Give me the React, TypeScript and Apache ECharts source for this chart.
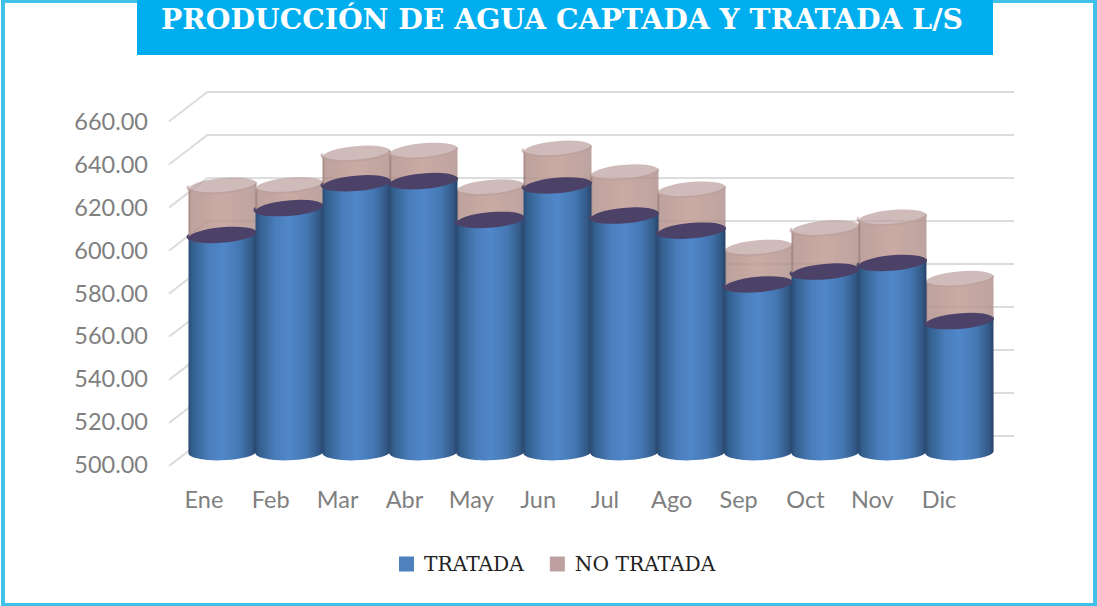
import React, { useEffect, useRef } from "react";
import * as echarts from "echarts";

const categories = ["Ene", "Feb", "Mar", "Abr", "May", "Jun", "Jul", "Ago", "Sep", "Oct", "Nov", "Dic"];
const tratada = [601, 613.5, 625, 626, 608, 624, 610, 603, 578, 584, 588, 561];
const noTratada = [22.8, 10.5, 13.7, 14, 15, 17, 20, 19, 17, 20, 21, 19.5];
const yTicks = [500, 520, 540, 560, 580, 600, 620, 640, 660];
const titleText = "PRODUCCIÓN DE AGUA CAPTADA Y TRATADA L/S";

const BLUE_STOPS = [
  { offset: 0, color: "#2A4A72" },
  { offset: 0.07, color: "#33608F" },
  { offset: 0.3, color: "#4A7DBB" },
  { offset: 0.5, color: "#5087C9" },
  { offset: 0.75, color: "#4578B3" },
  { offset: 0.93, color: "#335A88" },
  { offset: 1, color: "#284468" },
];
const PINK_STOPS = [
  { offset: 0, color: "rgba(140,105,100,0.85)" },
  { offset: 0.05, color: "rgba(176,142,136,0.82)" },
  { offset: 0.5, color: "rgba(194,156,149,0.86)" },
  { offset: 1, color: "rgba(174,144,139,0.82)" },
];

function ends(cx: number, cy: number, rx: number, deg: number) {
  const t = (deg * Math.PI) / 180;
  return {
    lx: cx - rx * Math.cos(t),
    ly: cy + rx * Math.sin(t),
    rx_: cx + rx * Math.cos(t),
    ry_: cy - rx * Math.sin(t),
  };
}

function cylinder(stops: any[], capColor: string, capOpacity?: number) {
  return (_params: any, api: any) => {
    const i = api.value(0);
    const bottom = api.coord([i, api.value(1)]);
    const top = api.coord([i, api.value(2)]);
    const rx = api.size([1, 0])[0] / 2 + 0.6;
    const ry = 8.2;
    const topTilt = 5;
    const botTilt = api.value(1) === yTicks[0] ? 2 : 5;
    const T = ends(top[0], top[1], rx, topTilt);
    const B = ends(bottom[0], bottom[1], rx, botTilt);
    const body =
      `M${T.lx} ${T.ly}L${B.lx} ${B.ly}` +
      `A${rx} ${ry} ${-botTilt} 0 0 ${B.rx_} ${B.ry_}` +
      `L${T.rx_} ${T.ry_}` +
      `A${rx} ${ry} ${-topTilt} 0 1 ${T.lx} ${T.ly}Z`;
    const cap =
      `M${T.lx} ${T.ly}A${rx} ${ry} ${-topTilt} 0 1 ${T.rx_} ${T.ry_}` +
      `A${rx} ${ry} ${-topTilt} 0 1 ${T.lx} ${T.ly}Z`;
    return {
      type: "group",
      children: [
        {
          type: "path",
          shape: { pathData: body },
          style: { fill: new echarts.graphic.LinearGradient(0, 0, 1, 0, stops) },
        },
        {
          type: "path",
          shape: { pathData: cap },
          style: { fill: capColor, opacity: capOpacity ?? 1 },
        },
      ],
    };
  };
}

export default function App() {
  const ref = useRef<HTMLDivElement>(null);
  useEffect(() => {
    document.body.style.margin = "0";
    document.body.style.overflow = "hidden";
    const chart = echarts.init(ref.current!, undefined, { renderer: "svg" });
    const blueData = categories.map((_, i) => [i, yTicks[0], tratada[i]]);
    const pinkData = categories.map((_, i) => [i, tratada[i], tratada[i] + noTratada[i]]);
    const hiddenX = (gridIndex: number) => ({
      type: "category",
      gridIndex,
      data: categories,
      show: false,
    });
    const hiddenY = (gridIndex: number) => ({
      type: "value",
      gridIndex,
      min: 500,
      max: 660,
      interval: 20,
      show: false,
    });
    chart.setOption({
      animation: false,
      backgroundColor: "#ffffff",
      title: {
        text: titleText,
        left: 557,
        top: 0,
        textAlign: "center",
        textStyle: {
          color: "#ffffff",
          fontFamily: "'DejaVu Serif'",
          fontWeight: "bold",
          fontSize: 28.3,
        },
      },
      legend: {
        left: 394,
        top: 549,
        itemWidth: 15,
        itemHeight: 15,
        itemGap: 26,
        icon: "rect",
        data: ["TRATADA", "NO TRATADA"],
        textStyle: {
          color: "#222222",
          fontFamily: "'DejaVu Serif'",
          fontSize: 20.2,
          padding: [0, 0, 0, 5],
        },
      },
      graphic: [
        { type: "rect", z: -1, shape: { x: 3, y: 1, width: 1092, height: 604 }, style: { fill: "none", stroke: "#3FC1EA", lineWidth: 4 } },
        { type: "rect", z: 0, shape: { x: 137, y: 0, width: 856, height: 55 }, style: { fill: "#00AEEF" } },
      ],
      grid: [
        { left: 170.5, width: 802, top: 121, height: 343 },
        { left: 208, width: 806, top: 91.5, height: 344.5 },
        { left: 189, width: 804, top: 107, height: 344.5 },
      ],
      xAxis: [
        {
          type: "category",
          gridIndex: 0,
          data: categories,
          axisLine: { show: false },
          axisTick: { show: false },
          axisLabel: { color: "#7F7F7F", fontFamily: "Lato", fontSize: 23.5, margin: 23 },
        },
        hiddenX(1),
        hiddenX(2),
      ],
      yAxis: [
        {
          type: "value",
          gridIndex: 0,
          min: 500,
          max: 660,
          interval: 20,
          axisLine: { show: false },
          axisTick: { show: false },
          splitLine: { show: false },
          axisLabel: {
            color: "#7F7F7F",
            fontFamily: "Lato",
            fontSize: 23.5,
            margin: 22.5,
            formatter: (v: number) => v.toFixed(2),
          },
        },
        {
          type: "value",
          gridIndex: 1,
          min: 500,
          max: 660,
          interval: 20,
          axisLine: { show: false },
          axisTick: { show: false },
          axisLabel: { show: false },
          splitLine: { show: true, lineStyle: { color: "#DCDCDC", width: 2 } },
        },
        hiddenY(2),
      ],
      series: [
        {
          name: "Diagonales",
          type: "custom",
          xAxisIndex: 1,
          yAxisIndex: 1,
          z: 1,
          silent: true,
          data: yTicks.map((v) => [0, v]),
          encode: { x: 0, y: 1 },
          renderItem: (params: any, api: any) => {
            const y = api.coord([0, api.value(1)])[1];
            const x = params.coordSys.x;
            return {
              type: "line",
              shape: { x1: x, y1: y, x2: x - 39, y2: y + 30 },
              style: { stroke: "#DCDCDC", lineWidth: 2 },
            };
          },
        },
        {
          name: "TRATADA",
          type: "custom",
          xAxisIndex: 2,
          yAxisIndex: 2,
          z: 4,
          itemStyle: { color: "#4F81BD" },
          data: blueData,
          encode: { x: 0, y: [1, 2] },
          renderItem: cylinder(BLUE_STOPS, "#4C4268"),
        },
        {
          name: "NO TRATADA",
          type: "custom",
          xAxisIndex: 2,
          yAxisIndex: 2,
          z: 3,
          itemStyle: { color: "#BFA0A0" },
          data: pinkData,
          encode: { x: 0, y: [1, 2] },
          renderItem: cylinder(PINK_STOPS, "#BBA09C", 0.7),
        },
      ],
    });
    return () => chart.dispose();
  }, []);
  return <div ref={ref} style={{ width: 1097, height: 606 }} />;
}
